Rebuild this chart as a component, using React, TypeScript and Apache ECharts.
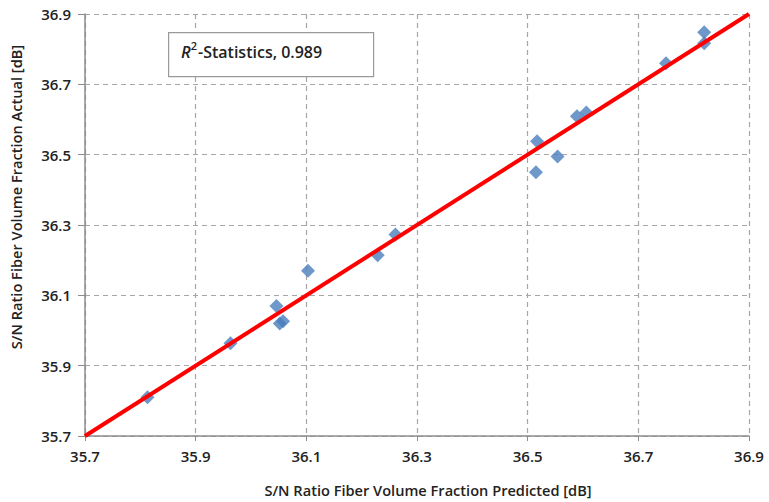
import React, { useEffect, useRef } from "react";
import * as echarts from "echarts";

const predicted = [35.813, 35.963, 36.046, 36.052, 36.058, 36.103, 36.229, 36.261, 36.515, 36.517, 36.554, 36.589, 36.606, 36.75, 36.819, 36.819];
const actual = [35.81, 35.964, 36.07, 36.02, 36.026, 36.17, 36.214, 36.273, 36.45, 36.538, 36.495, 36.609, 36.62, 36.76, 36.848, 36.817];
const fitX = [35.7, 36.9];
const fitY = [35.7, 36.9];
const tickValues = [35.7, 35.9, 36.1, 36.3, 36.5, 36.7, 36.9];
const xTitle = "S/N Ratio Fiber Volume Fraction Predicted [dB]";
const yTitle = "S/N Ratio Fiber Volume Fraction Actual [dB]";
const rSquared = "0.989";

const FONT = "Open Sans";

export default function App() {
  const ref = useRef<HTMLDivElement>(null);
  useEffect(() => {
    if (!ref.current) return;
    const chart = echarts.init(ref.current, undefined, { renderer: "svg" });
    const nameStyle = { color: "#222", fontSize: 14.6, fontFamily: FONT, fontWeight: 600 };
    const axisCommon = {
      type: "value" as const,
      min: 35.7,
      max: 36.9,
      nameLocation: "middle" as const,
      axisLine: { show: true, lineStyle: { color: "#8c8c8c", width: 1.5 } },
      axisTick: { show: true, length: 5, customValues: tickValues, lineStyle: { color: "#8c8c8c" } },
      axisLabel: {
        customValues: tickValues,
        color: "#222",
        fontSize: 15,
        fontFamily: FONT,
        fontWeight: 600,
        formatter: (v: number) => v.toFixed(1),
      },
      splitLine: { show: true, lineStyle: { color: "#a6a6a6", type: [5, 4] as any, width: 1.2 } },
    };
    chart.setOption({
      animation: false,
      backgroundColor: "#ffffff",
      grid: { left: 84, right: 20, top: 14, bottom: 65, containLabel: false },
      xAxis: {
        ...axisCommon,
        name: xTitle,
        nameGap: 46,
        nameTextStyle: { ...nameStyle, padding: [0, 0, 0, 22] },
        axisLabel: { ...axisCommon.axisLabel, margin: 12 },
      },
      yAxis: {
        ...axisCommon,
        name: yTitle,
        nameGap: 62,
        nameTextStyle: { ...nameStyle, padding: [0, 0, 0, 56] },
        axisTick: { ...axisCommon.axisTick, length: 7 },
        axisLabel: { ...axisCommon.axisLabel, margin: 14 },
      },
      graphic: [
        {
          type: "rect",
          left: 168,
          top: 32,
          shape: { width: 205, height: 44 },
          style: { fill: "#fff", stroke: "#9a9a9a", lineWidth: 1.2 },
          z: 100,
        },
        {
          type: "text",
          left: 181,
          top: 40,
          z: 101,
          style: {
            text: "{r|R}{s|2}{t|-Statistics, " + rSquared + "}",
            fill: "#222",
            rich: {
              r: { fontSize: 16.5, fontStyle: "italic", fontFamily: FONT, fill: "#222", fontWeight: 600, verticalAlign: "bottom", lineHeight: 20 },
              s: { fontSize: 11, fontFamily: FONT, fill: "#222", fontWeight: 600, verticalAlign: "top", lineHeight: 20, padding: [0, 1, 0, 0] },
              t: { fontSize: 16, fontFamily: FONT, fill: "#222", fontWeight: 600, verticalAlign: "bottom", lineHeight: 20 },
            },
          },
        },
      ],
      series: [
        {
          type: "scatter",
          data: predicted.map((x, i) => [x, actual[i]]),
          symbol: "diamond",
          symbolSize: 14,
          itemStyle: { color: "#4a7dbd" },
          z: 2,
        },
        {
          type: "line",
          data: fitX.map((x, i) => [x, fitY[i]]),
          showSymbol: false,
          lineStyle: { color: "#ff0000", width: 4 },
          z: 3,
        },
      ],
    });
    return () => chart.dispose();
  }, []);
  return <div ref={ref} style={{ width: 769, height: 502, position: "fixed", left: 0, top: 0 }} />;
}
